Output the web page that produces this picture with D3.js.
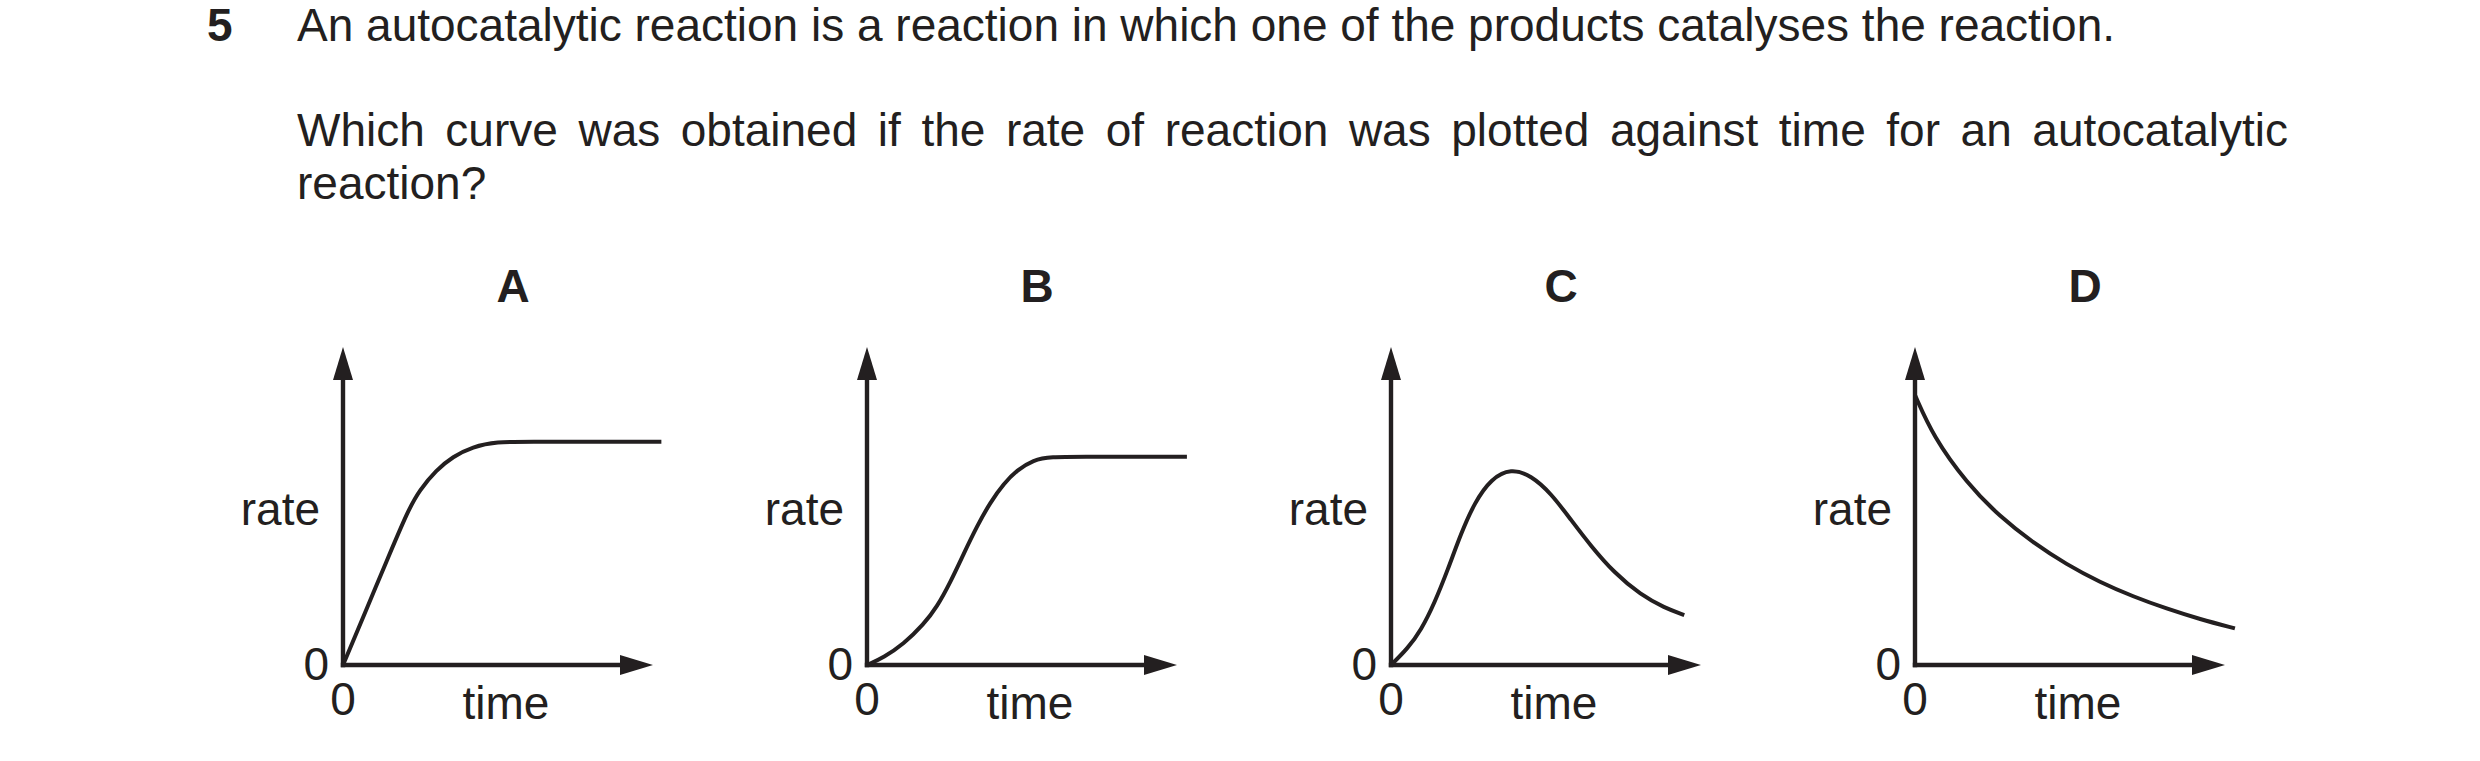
<!DOCTYPE html>
<html>
<head>
<meta charset="utf-8">
<script src="https://cdn.jsdelivr.net/npm/d3@7/dist/d3.min.js"></script>
<style>
  html, body { margin: 0; padding: 0; background: #ffffff; }
  svg { display: block; }
  text { font-family: "Liberation Sans", Arial, Helvetica, sans-serif; fill: #231f20; }
</style>
</head>
<body>
<svg id="chart" width="2480" height="761"></svg>
<script>
// ---------- data ----------
const questionNumber = "5";
const questionLines = [
  "An autocatalytic reaction is a reaction in which one of the products catalyses the reaction.",
  "Which curve was obtained if the rate of reaction was plotted against time for an autocatalytic",
  "reaction?"
];
const panelLabels = ["A", "B", "C", "D"];
const xAxisLabel = "time";
const yAxisLabel = "rate";
const originLabel = "0";

// curve A: straight rise then plateau
const timeA = [0, 0.7, 1.4, 2.10, 2.47, 3.01, 3.54, 4.18, 4.95, 6.0, 8.0, 10.27];
const rateA = [0, 1.62, 3.25, 4.87, 5.50, 6.13, 6.55, 6.86, 7.02, 7.02, 7.02, 7.02];
// curve B: sigmoid
const timeB = [0, 0.54, 1.18, 1.83, 2.26, 2.69, 3.12, 3.55, 3.98, 4.41, 4.84, 5.37, 5.91, 7.0, 8.5, 10.32];
const rateB = [0, 0.24, 0.66, 1.28, 1.83, 2.60, 3.50, 4.37, 5.12, 5.70, 6.13, 6.45, 6.55, 6.55, 6.55, 6.55];
// curve C: rise, peak, fall
const timeC = [0, 0.54, 0.97, 1.40, 1.83, 2.26, 2.69, 3.23, 3.87, 4.52, 5.16, 5.81, 6.45, 7.20, 8.06, 8.82, 9.46];
const rateC = [0, 0.52, 1.10, 1.94, 2.99, 4.14, 5.10, 5.86, 6.18, 5.96, 5.40, 4.56, 3.74, 2.90, 2.20, 1.80, 1.57];
// curve D: decay
const timeD = [0, 0.59, 1.67, 2.74, 3.82, 4.89, 5.97, 7.04, 8.12, 9.19, 10.32];
const rateD = [8.49, 7.18, 5.72, 4.66, 3.84, 3.16, 2.60, 2.15, 1.77, 1.44, 1.15];

const seriesTime = [timeA, timeB, timeC, timeD];
const seriesRate = [rateA, rateB, rateC, rateD];

// ---------- layout ----------
const W = 2480, H = 761;
const ink = "#231f20";
const svg = d3.select("#chart");
svg.append("rect").attr("width", W).attr("height", H).attr("fill", "#ffffff");

const fontSize = 46;

// question text
svg.append("text")
  .attr("x", 207).attr("y", 41)
  .attr("font-size", fontSize).attr("font-weight", "bold")
  .text(questionNumber);

const textLeft = 297, textRight = 2288;
const lineBaselines = [41, 146, 199];

questionLines.forEach((line, i) => {
  const t = svg.append("text")
    .attr("x", textLeft).attr("y", lineBaselines[i])
    .attr("font-size", fontSize);
  if (i === 1) {
    // justified line: lay words out across the full width
    const words = line.split(" ");
    const widths = words.map(w => {
      const tmp = svg.append("text").attr("font-size", fontSize).text(w);
      const len = tmp.node().getComputedTextLength();
      tmp.remove();
      return len;
    });
    const total = d3.sum(widths);
    const gap = (textRight - textLeft - total) / (words.length - 1);
    let cx = textLeft;
    words.forEach((w, k) => {
      t.append("tspan").attr("x", cx).text(w);
      cx += widths[k] + gap;
    });
  } else {
    t.text(line);
  }
});

// panel positions via a point scale
const panelX = d3.scalePoint().domain(panelLabels).range([343, 1915]);
const axisY0 = 665, axisYTop = 347, axisLen = 310;

panelLabels.forEach((lab, i) => {
  const ox = panelX(lab);
  const x = d3.scaleLinear().domain([0, 10]).range([ox, ox + axisLen]);
  const y = d3.scaleLinear().domain([0, 10]).range([axisY0, axisYTop]);
  const g = svg.append("g");

  const arrowLen = 33, arrowHalf = 10;
  // axes lines
  g.append("line")
    .attr("x1", x(0)).attr("y1", y(0) + 2.2)
    .attr("x2", x(0)).attr("y2", y(10) + arrowLen - 1)
    .attr("stroke", ink).attr("stroke-width", 4.4);
  g.append("line")
    .attr("x1", x(0) - 2.2).attr("y1", y(0))
    .attr("x2", x(10) - arrowLen + 1).attr("y2", y(0))
    .attr("stroke", ink).attr("stroke-width", 4.4);
  // arrowheads
  g.append("path")
    .attr("d", `M${x(0)},${y(10)} L${x(0) + arrowHalf},${y(10) + arrowLen} L${x(0) - arrowHalf},${y(10) + arrowLen} Z`)
    .attr("fill", ink);
  g.append("path")
    .attr("d", `M${x(10)},${y(0)} L${x(10) - arrowLen},${y(0) - arrowHalf} L${x(10) - arrowLen},${y(0) + arrowHalf} Z`)
    .attr("fill", ink);

  // curve
  const pts = seriesTime[i].map((t, k) => [t, seriesRate[i][k]]);
  const line = d3.line()
    .x(d => x(d[0])).y(d => y(d[1]))
    .curve(d3.curveBasis);
  g.append("path")
    .attr("d", line(pts))
    .attr("fill", "none").attr("stroke", ink)
    .attr("stroke-width", 4).attr("stroke-linejoin", "round");

  // labels
  g.append("text")
    .attr("x", ox + 170).attr("y", 302)
    .attr("text-anchor", "middle").attr("font-size", fontSize).attr("font-weight", "bold")
    .text(lab);
  g.append("text")
    .attr("x", ox - 23).attr("y", 525)
    .attr("text-anchor", "end").attr("font-size", fontSize)
    .text(yAxisLabel);
  g.append("text")
    .attr("x", ox + 163).attr("y", 719)
    .attr("text-anchor", "middle").attr("font-size", fontSize)
    .text(xAxisLabel);
  g.append("text")
    .attr("x", ox - 14).attr("y", 680)
    .attr("text-anchor", "end").attr("font-size", fontSize)
    .text(originLabel);
  g.append("text")
    .attr("x", ox).attr("y", 715)
    .attr("text-anchor", "middle").attr("font-size", fontSize)
    .text(originLabel);
});
</script>
</body>
</html>
